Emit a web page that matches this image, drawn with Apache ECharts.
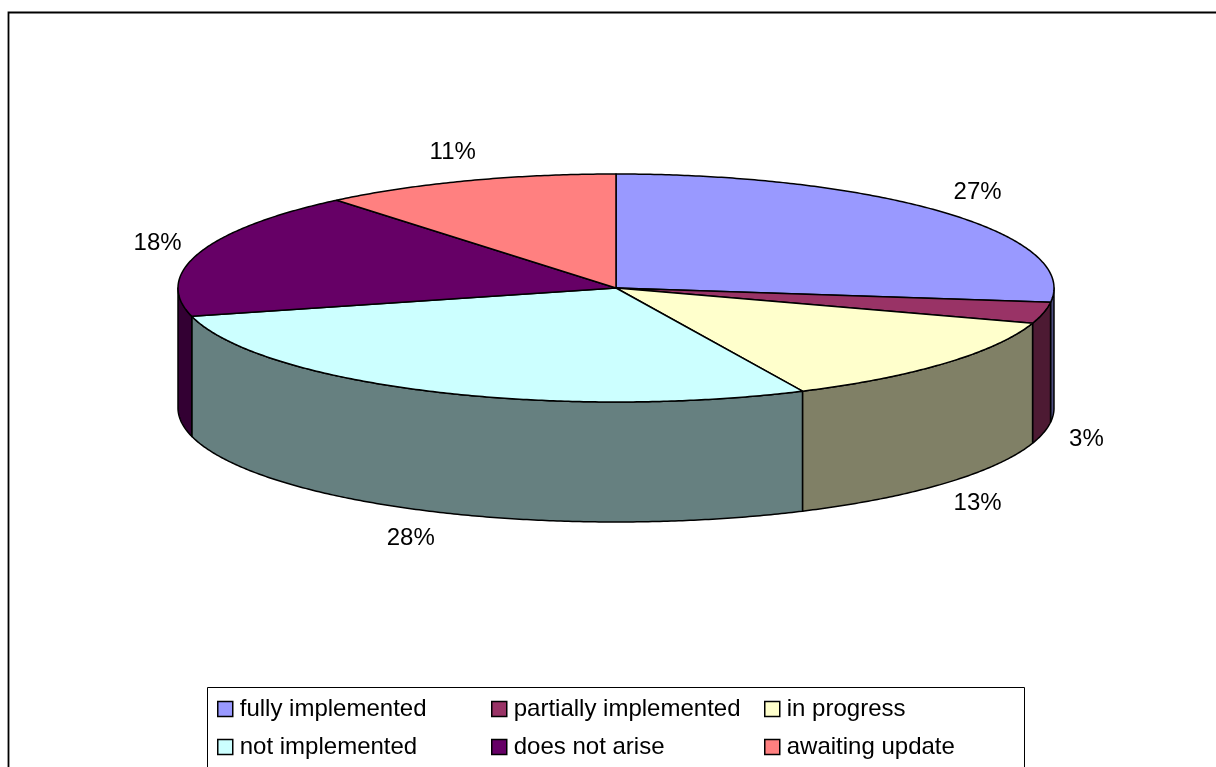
<!DOCTYPE html>
<html><head><meta charset="utf-8">
<script src="https://cdn.jsdelivr.net/npm/echarts@6/dist/echarts.min.js"></script>
<style>html,body{margin:0;padding:0;background:#fff}#c{width:1216px;height:767px}</style>
</head><body><div id="c"></div>
<script>
const categories = ['fully implemented','partially implemented','in progress','not implemented','does not arise','awaiting update'];
const values = [27, 3, 13, 28, 18, 11];
const labels = ['27%','3%','13%','28%','18%','11%'];
const topColors = ['#9999FF','#993366','#FFFFCC','#CCFFFF','#660066','#FF8080'];
const sideColors = ['#4D4D80','#4D1A33','#808066','#668080','#330033','#804040'];
const legendCols = [[0,3],[1,4],[2,5]];

const FONT = '"Liberation Sans", Arial, sans-serif';
const chart = echarts.init(document.getElementById('c'));

function makeRender(i){
  return function(params, api){
    const v = api.value(0);
    const total = values.reduce((a,b)=>a+b,0);
    let start = 0; for (let j=0;j<i;j++) start += values[j];
    const a0 = start/total*360, a1 = (start+v)/total*360;
    const cx = 616, cy = 288, rx = 438, ry = 114, depth = 120;
    const pt = (deg, dy) => { const r = deg*Math.PI/180; return [cx + rx*Math.sin(r), cy - ry*Math.cos(r) + (dy||0)]; };
    const arc = (s, e, dy) => { const pts=[]; const n = Math.max(2, Math.ceil((e-s)/0.5)); for (let k=0;k<=n;k++) pts.push(pt(s+(e-s)*k/n, dy)); return pts; };
    const children = [];
    children.push({type:'polygon', shape:{points:[[cx,cy]].concat(arc(a0,a1))},
      style:{fill:topColors[i], stroke:'#000', lineWidth:1.5, lineJoin:'round'}, z2:10});
    const s = Math.max(a0,90), e = Math.min(a1,270);
    if (e > s) {
      const top = arc(s,e,0), bot = arc(s,e,depth).reverse();
      children.push({type:'polygon', shape:{points:top.concat(bot)},
        style:{fill:sideColors[i], stroke:'#000', lineWidth:1.5, lineJoin:'round'}, z2:1});
    }
    const m = (a0+a1)/2, r = m*Math.PI/180;
    const p = pt(m, Math.cos(r) < 0 ? depth : 0);
    children.push({type:'text', x:p[0] + 44*Math.sin(r), y:p[1] - 30*Math.cos(r),
      style:{text:labels[i], fill:'#000', font:'24px ' + FONT, align:'center', verticalAlign:'middle'}, z2:20});
    return {type:'group', children};
  };
}

const series = categories.map((name,i)=>({
  type:'custom', name, coordinateSystem:'none', renderItem:makeRender(i),
  data:[[values[i]]], itemStyle:{color:topColors[i]}, silent:true, animation:false
}));

const legendLeft = [217, 491, 764];
chart.setOption({
  animation:false,
  legend: legendCols.map((col,k)=>({
    data: col.map(j=>categories[j]), orient:'vertical', left:legendLeft[k], top:696,
    itemGap:12, itemWidth:15, itemHeight:15, padding:0, icon:'rect', selectedMode:false,
    itemStyle:{borderColor:'#000', borderWidth:1.5},
    textStyle:{fontFamily:FONT, fontSize:24, color:'#000', lineHeight:26, padding:[0,0,0,2]}
  })),
  graphic:[
    {type:'rect', shape:{x:8.5, y:12.5, width:1220, height:800}, style:{fill:'none', stroke:'#000', lineWidth:1.8}},
    {type:'rect', shape:{x:207.5, y:687.5, width:817, height:100}, style:{fill:'none', stroke:'#000', lineWidth:1}}
  ],
  series
});
</script></body></html>
